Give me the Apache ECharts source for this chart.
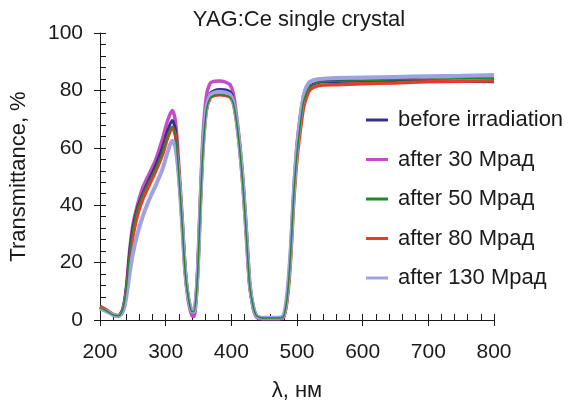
<!DOCTYPE html>
<html>
<head>
<meta charset="utf-8">
<title>YAG:Ce single crystal</title>
<script src="https://cdn.jsdelivr.net/npm/echarts@6.0.0/dist/echarts.min.js"></script>
<style>
  html, body { margin: 0; padding: 0; background: #ffffff; }
  #myChart { width: 574px; height: 401px; }
</style>
</head>
<body>
<div id="myChart"></div>
<script>
// wavelength, nm
var lambdaNm = [200,210,220,228,235,240,245,250,257,265,275,285,295,303,310,315,320,325,330,335,340,343,347,350,353,357,362,368,375,382,390,398,403,408,413,418,423,428,433,438,445,460,475,480,485,490,495,500,505,510,515,520,530,540,560,600,650,700,750,800];

// transmittance, %
var beforeIrr = [4.2,3.2,1.8,1.5,4,11,23,32,39,44,49,54,60,66,69.5,66,52,35,17,7,3,2.5,10,24,42,62,75,79,80,80.3,80.2,79.5,77,70,60,47,30,12,5,1.5,0.8,0.7,0.8,1.5,8,22,43,58,68,76,79.5,81.5,82.6,83,83.1,83.2,83.3,83.3,83.2,83];
var after30 = [4.5,3.3,1.8,1.4,4,11,24,33,40,46,51,56,63,69.5,73,69,54,36,17,6,1.5,1.2,9,24,43,65,78,82.5,83.2,83.3,83,82,79,71,61,48,31,13,4.5,1,0.5,0.4,0.5,1.2,8,23,45,61,71,78,81.5,83,83.8,84,84.1,84.3,84.5,84.7,84.9,85];
var after50 = [4.3,3.2,1.8,1.5,4,11,23,32,39,44,48.5,53,58.5,64,67.5,64,51,34,16,7,3,3,10,23,41,60,73,77.5,78.3,78.5,78.3,77.7,75.5,69,59,46,29,12,5,1.5,0.8,0.7,0.8,1.5,8,22,43,58,68,76,79.5,81.5,82.6,83,83.2,83.4,83.7,83.9,84.1,84.2];
var after80 = [4.8,3.5,2,1.6,3.5,9.5,20,29,36.5,42,47,52,57.5,63.5,67,64,51,34,16,7,3,3,10,23,41,60,73,77.5,78.3,78.5,78.3,77.7,75.5,69,59,46,29,12,5,1.5,0.8,0.7,0.8,1.3,7,20,41,56,66,74,78,80.3,81.5,81.9,82,82.3,82.6,83,83.2,83.4];
var after130 = [4,3,1.8,1.3,3,8,16,23,30,36,42,47,52.5,58.5,62.5,60,50,34,16,7,3,2.8,10,23,42,61,74,78.5,79.3,79.5,79.3,78.5,76,69.5,59.5,46.5,29.5,12.5,5,1.5,0.8,0.8,0.9,1.8,9,23,44,60,70,78,81.5,83,83.8,84.1,84.3,84.5,84.7,84.9,85.1,85.4];

var seriesNames = ["before irradiation", "after 30 Мрад", "after 50 Мрад", "after 80 Мрад", "after 130 Мрад"];
var seriesValues = [beforeIrr, after30, after50, after80, after130];
var seriesColors = ["#34308c", "#c44cc4", "#1f8a26", "#e63c2e", "#9ea2e0"];
var seriesWidths = [3, 3.5, 1.5, 3.5, 4];
var seriesZ = [3, 2, 6, 4, 5];

var textColor = "#1a1a1a";
var fontName = "Liberation Sans";

function pairs(values) {
  return lambdaNm.map(function (x, i) {
    return [x, values[i]];
  });
}

var myChart = echarts.init(document.getElementById("myChart"), null, { renderer: "canvas" });

var setOption = {
  backgroundColor: "#ffffff",
  animation: false,
  title: {
    text: "YAG:Ce single crystal",
    left: 294,
    top: 4,
    textAlign: "center",
    textStyle: { fontFamily: fontName, fontSize: 22, fontWeight: "normal", color: textColor }
  },
  legend: {
    orient: "vertical",
    left: 366,
    top: 109,
    padding: 0,
    itemWidth: 22,
    itemHeight: 12,
    itemGap: 17.5,
    icon: "path://M0,4.5 L22,4.5 L22,7.5 L0,7.5 Z",
    data: seriesNames,
    textStyle: { fontFamily: fontName, fontSize: 22, lineHeight: 22, color: textColor, padding: [0, 0, 0, 5] }
  },
  grid: {
    left: 100,
    right: 80,
    top: 33,
    bottom: 81,
    containLabel: false,
    outerBoundsMode: "none"
  },
  xAxis: [
    {
      type: "value",
      min: 200,
      max: 800,
      interval: 100,
      name: "λ, нм",
      nameLocation: "middle",
      nameGap: 60,
      nameTextStyle: { fontFamily: fontName, fontSize: 22, color: textColor },
      axisLine: { onZero: false, lineStyle: { color: "#1a1a1a", width: 1 } },
      axisTick: { show: true, inside: false, length: 6, lineStyle: { color: "#1a1a1a" } },
      axisLabel: { margin: 22, fontFamily: fontName, fontSize: 21, color: textColor },
      splitLine: { show: false }
    },
    {
      // overlay for the inner ticks
      type: "value",
      position: "bottom",
      min: 200,
      max: 800,
      interval: 100,
      axisLine: { show: false },
      axisTick: { show: true, inside: true, length: 6, lineStyle: { color: "#1a1a1a" } },
      minorTick: { show: true, splitNumber: 5, length: 6, lineStyle: { color: "#1a1a1a" } },
      axisLabel: { show: false },
      splitLine: { show: false }
    }
  ],
  yAxis: [
    {
      type: "value",
      min: 0,
      max: 100,
      interval: 20,
      name: "Transmittance, %",
      nameLocation: "middle",
      nameGap: 70,
      nameTextStyle: { fontFamily: fontName, fontSize: 22, color: textColor },
      axisLine: { show: true, onZero: false, lineStyle: { color: "#1a1a1a", width: 1 } },
      axisTick: { show: true, inside: false, length: 6, lineStyle: { color: "#1a1a1a" } },
      axisLabel: { margin: 17, fontFamily: fontName, fontSize: 21, color: textColor },
      splitLine: { show: false }
    },
    {
      type: "value",
      position: "left",
      min: 0,
      max: 100,
      interval: 20,
      axisLine: { show: false },
      axisTick: { show: true, inside: true, length: 6, lineStyle: { color: "#1a1a1a" } },
      minorTick: { show: true, splitNumber: 5, length: 6, lineStyle: { color: "#1a1a1a" } },
      axisLabel: { show: false },
      splitLine: { show: false }
    }
  ],
  series: seriesNames.map(function (name, i) {
    return {
      name: name,
      type: "line",
      xAxisIndex: 0,
      yAxisIndex: 0,
      data: pairs(seriesValues[i]),
      smooth: 0.3,
      showSymbol: false,
      symbol: "none",
      z: seriesZ[i],
      itemStyle: { color: seriesColors[i] },
      lineStyle: { color: seriesColors[i], width: seriesWidths[i] }
    };
  })
};

myChart.setOption(setOption, true);
</script>
</body>
</html>
